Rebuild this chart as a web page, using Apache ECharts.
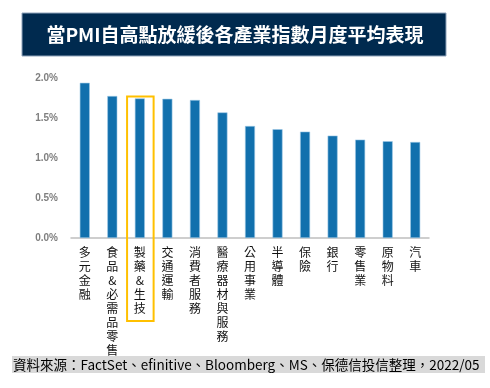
<!DOCTYPE html>
<html><head><meta charset="utf-8">
<script src="https://cdn.jsdelivr.net/npm/echarts@6/dist/echarts.min.js"></script>
<style>html,body{margin:0;padding:0;background:#fff}#c{width:490px;height:388px}</style>
</head><body><div id="c"></div>
<script>
const categories = ['多元金融','食品&必需品零售','製藥&生技','交通運輸','消費者服務','醫療器材與服務','公用事業','半導體','保險','銀行','零售業','原物料','汽車'];
const values = [1.94, 1.775, 1.745, 1.74, 1.725, 1.57, 1.40, 1.36, 1.33, 1.28, 1.23, 1.21, 1.20];
const yTicks = [0, 0.5, 1.0, 1.5, 2.0];
const highlightIndex = 2;
const titleText = '當PMI自高點放緩後各產業指數月度平均表現';
const sourceText = '資料來源：FactSet、efinitive、Bloomberg、MS、保德信投信整理，2022/05';

const cjk = '"Noto Sans CJK TC","Noto Sans CJK SC",sans-serif';
const chart = echarts.init(document.getElementById('c'), null, {renderer:'canvas'});
const option = {
  animation: false,
  grid: {left: 71, right: 61, top: 78, bottom: 150},
  xAxis: {
    type: 'category', data: categories,
    axisLine: {lineStyle: {color: '#bfbfbf', width: 1.5}},
    axisTick: {show: false},
    axisLabel: {
      interval: 0, margin: 7, color: '#111', fontSize: 12, lineHeight: 14,
      fontFamily: cjk, verticalAlign: 'top',
      formatter: v => v.split('').join('\n')
    }
  },
  yAxis: {
    type: 'value', min: yTicks[0], max: yTicks[yTicks.length-1], interval: 0.5,
    splitLine: {show: false},
    axisLine: {show: false}, axisTick: {show: false},
    axisLabel: {color: '#7f7f7f', fontSize: 10, fontWeight: 'bold', margin: 13,
      fontFamily: '"Liberation Sans",Arial,sans-serif',
      formatter: v => v.toFixed(1) + '%'}
  },
  series: [{
    type: 'bar', data: values, barWidth: 10,
    itemStyle: {color: '#1170ad', borderColor: '#9cc7e6', borderWidth: 0.6}
  }],
  graphic: [
    {type: 'rect', shape: {x: 22, y: 13, width: 424, height: 43},
     style: {fill: '#002a4f', stroke: '#8fa3bb', lineWidth: 1}, z: 0},
    {type: 'text', x: 235, y: 35,
     style: {text: titleText, fill: '#fff', font: 'bold 19px ' + cjk, align: 'center', verticalAlign: 'middle'}, z: 1},
    {type: 'rect', shape: {x: 12, y: 356, width: 473, height: 17},
     style: {fill: '#d9d9d9'}, z: 0},
    {type: 'text', x: 13, y: 364.5,
     style: {text: sourceText, fill: '#000', font: '13.5px ' + cjk, align: 'left', verticalAlign: 'middle'}, z: 1}
  ]
};
chart.setOption(option);

// highlight box around the selected category, positioned through the axes
const cx = chart.convertToPixel({seriesIndex: 0}, [highlightIndex, values[highlightIndex]]);
const base = chart.convertToPixel({seriesIndex: 0}, [highlightIndex, 0]);
const catW = 358 / categories.length;
const nChars = categories[highlightIndex].length;
chart.setOption({graphic: option.graphic.concat([
  {type: 'rect', shape: {x: cx[0] - catW/2 + 1, y: cx[1] - 2, width: catW - 1, height: base[1] - cx[1] + 2 + 7 + nChars*14 + 6},
   style: {fill: 'none', stroke: '#ffc000', lineWidth: 2}, z: 10}
])});
</script>
</body></html>
